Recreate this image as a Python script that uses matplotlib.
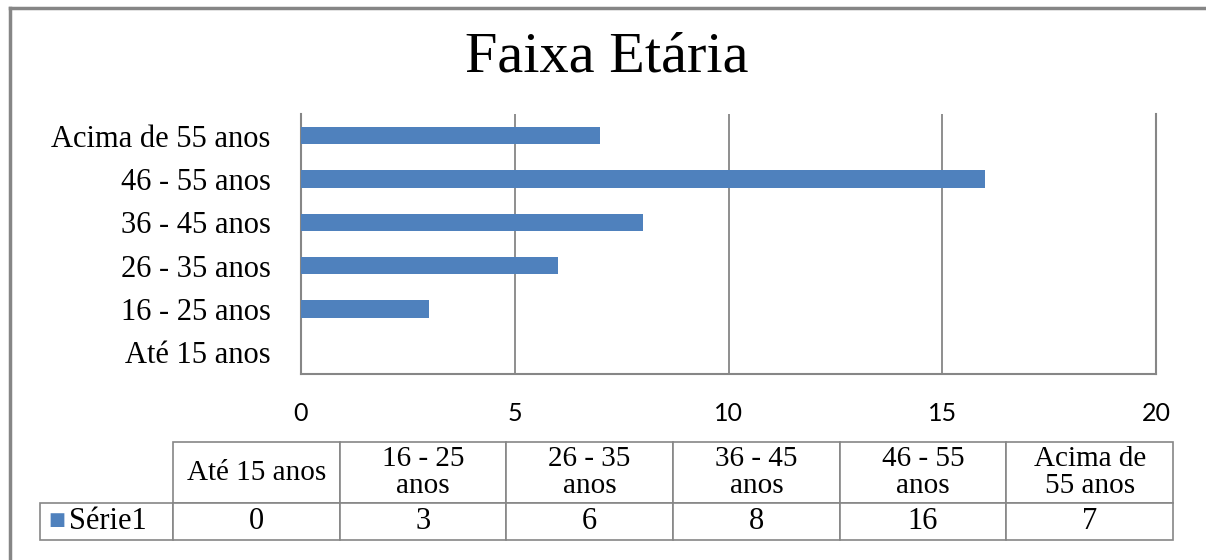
import matplotlib
matplotlib.use('Agg')
import matplotlib.pyplot as plt
from matplotlib.lines import Line2D
from matplotlib.table import Table

categories = ['Até 15 anos', '16 - 25 anos', '26 - 35 anos',
              '36 - 45 anos', '46 - 55 anos', 'Acima de 55 anos']
table_headers = ['Até 15 anos', '16 - 25\nanos', '26 - 35\nanos',
                 '36 - 45\nanos', '46 - 55\nanos', 'Acima de\n55 anos']
values = [0, 3, 6, 8, 16, 7]
series_name = 'Série1'
x_ticks = [0, 5, 10, 15, 20]

BAR = '#4F81BD'
GRAY = '#868686'
SERIF = 'Liberation Serif'
SANS = 'Lato'

W, H = 1206, 560
fig = plt.figure(figsize=(W / 100, H / 100), dpi=100)

def fx(px):
    return px / W

def fy(py):
    return 1 - py / H

# outer chart frame (cut off at right and bottom)
fig.add_artist(Line2D([fx(10), 1.0], [fy(8), fy(8)], color=GRAY, lw=2.5))
fig.add_artist(Line2D([fx(10), fx(10)], [fy(8), 0.0], color=GRAY, lw=2.5))

fig.text(fx(607), fy(57), 'Faixa Etária', family=SERIF, fontsize=42,
         ha='center', va='center')

left, right, top, bottom = 301, 1156, 114, 374
aw, ah = right - left, bottom - top
ax = fig.add_axes([fx(left), fy(bottom), aw / W, ah / H])

ax.barh(range(len(categories)), values, height=0.4, color=BAR, zorder=3)
ax.set_xlim(0, 20)
ax.set_ylim(-0.5, len(categories) - 0.5)
ax.set_xticks(x_ticks)
ax.set_yticks(range(len(categories)))
ax.set_yticklabels(categories, family=SERIF, fontsize=22)
for lab in ax.get_xticklabels():
    lab.set_family(SANS)
    lab.set_fontsize(18)
ax.tick_params(axis='y', length=0, pad=22)
ax.tick_params(axis='x', length=0, pad=20)
ax.grid(axis='x', color=GRAY, lw=1.3, zorder=0)
ax.spines['top'].set_visible(False)
for s in ['left', 'bottom', 'right']:
    ax.spines[s].set_color(GRAY)
    ax.spines[s].set_linewidth(1.5)

# data table below the chart (bbox covers the value columns only)
tx0, tx1, ty0, ty1 = 173, 1173, 442, 540
bbox = [(tx0 - left) / aw, (bottom - ty1) / ah,
        (tx1 - tx0) / aw, (ty1 - ty0) / ah]
cw = (tx1 - tx0) / len(values) / aw
tbl = Table(ax, bbox=bbox)
tbl.auto_set_font_size(False)
for j, head in enumerate(table_headers):
    tbl.add_cell(0, j, width=cw, height=61 / ah, text=head, loc='center')
    tbl.add_cell(1, j, width=cw, height=37 / ah, text=str(values[j]), loc='center')
tbl.add_cell(1, -1, width=133 / aw, height=37 / ah, text=series_name,
             loc='left')
for (r, c), cell in tbl.get_celld().items():
    cell.set_edgecolor(GRAY)
    cell.set_linewidth(1.2)
    cell.get_text().set_family(SERIF)
    cell.get_text().set_fontsize(21 if r == 0 else 22)
    cell.get_text().set_linespacing(1.02)
    if c == -1:
        cell.PAD = 0.22
ax.add_table(tbl)

fig.text(fx(57), fy(520), '■', color=BAR, fontsize=13, family='DejaVu Sans',
         ha='center', va='center')

fig.savefig('out.png', dpi=100)
